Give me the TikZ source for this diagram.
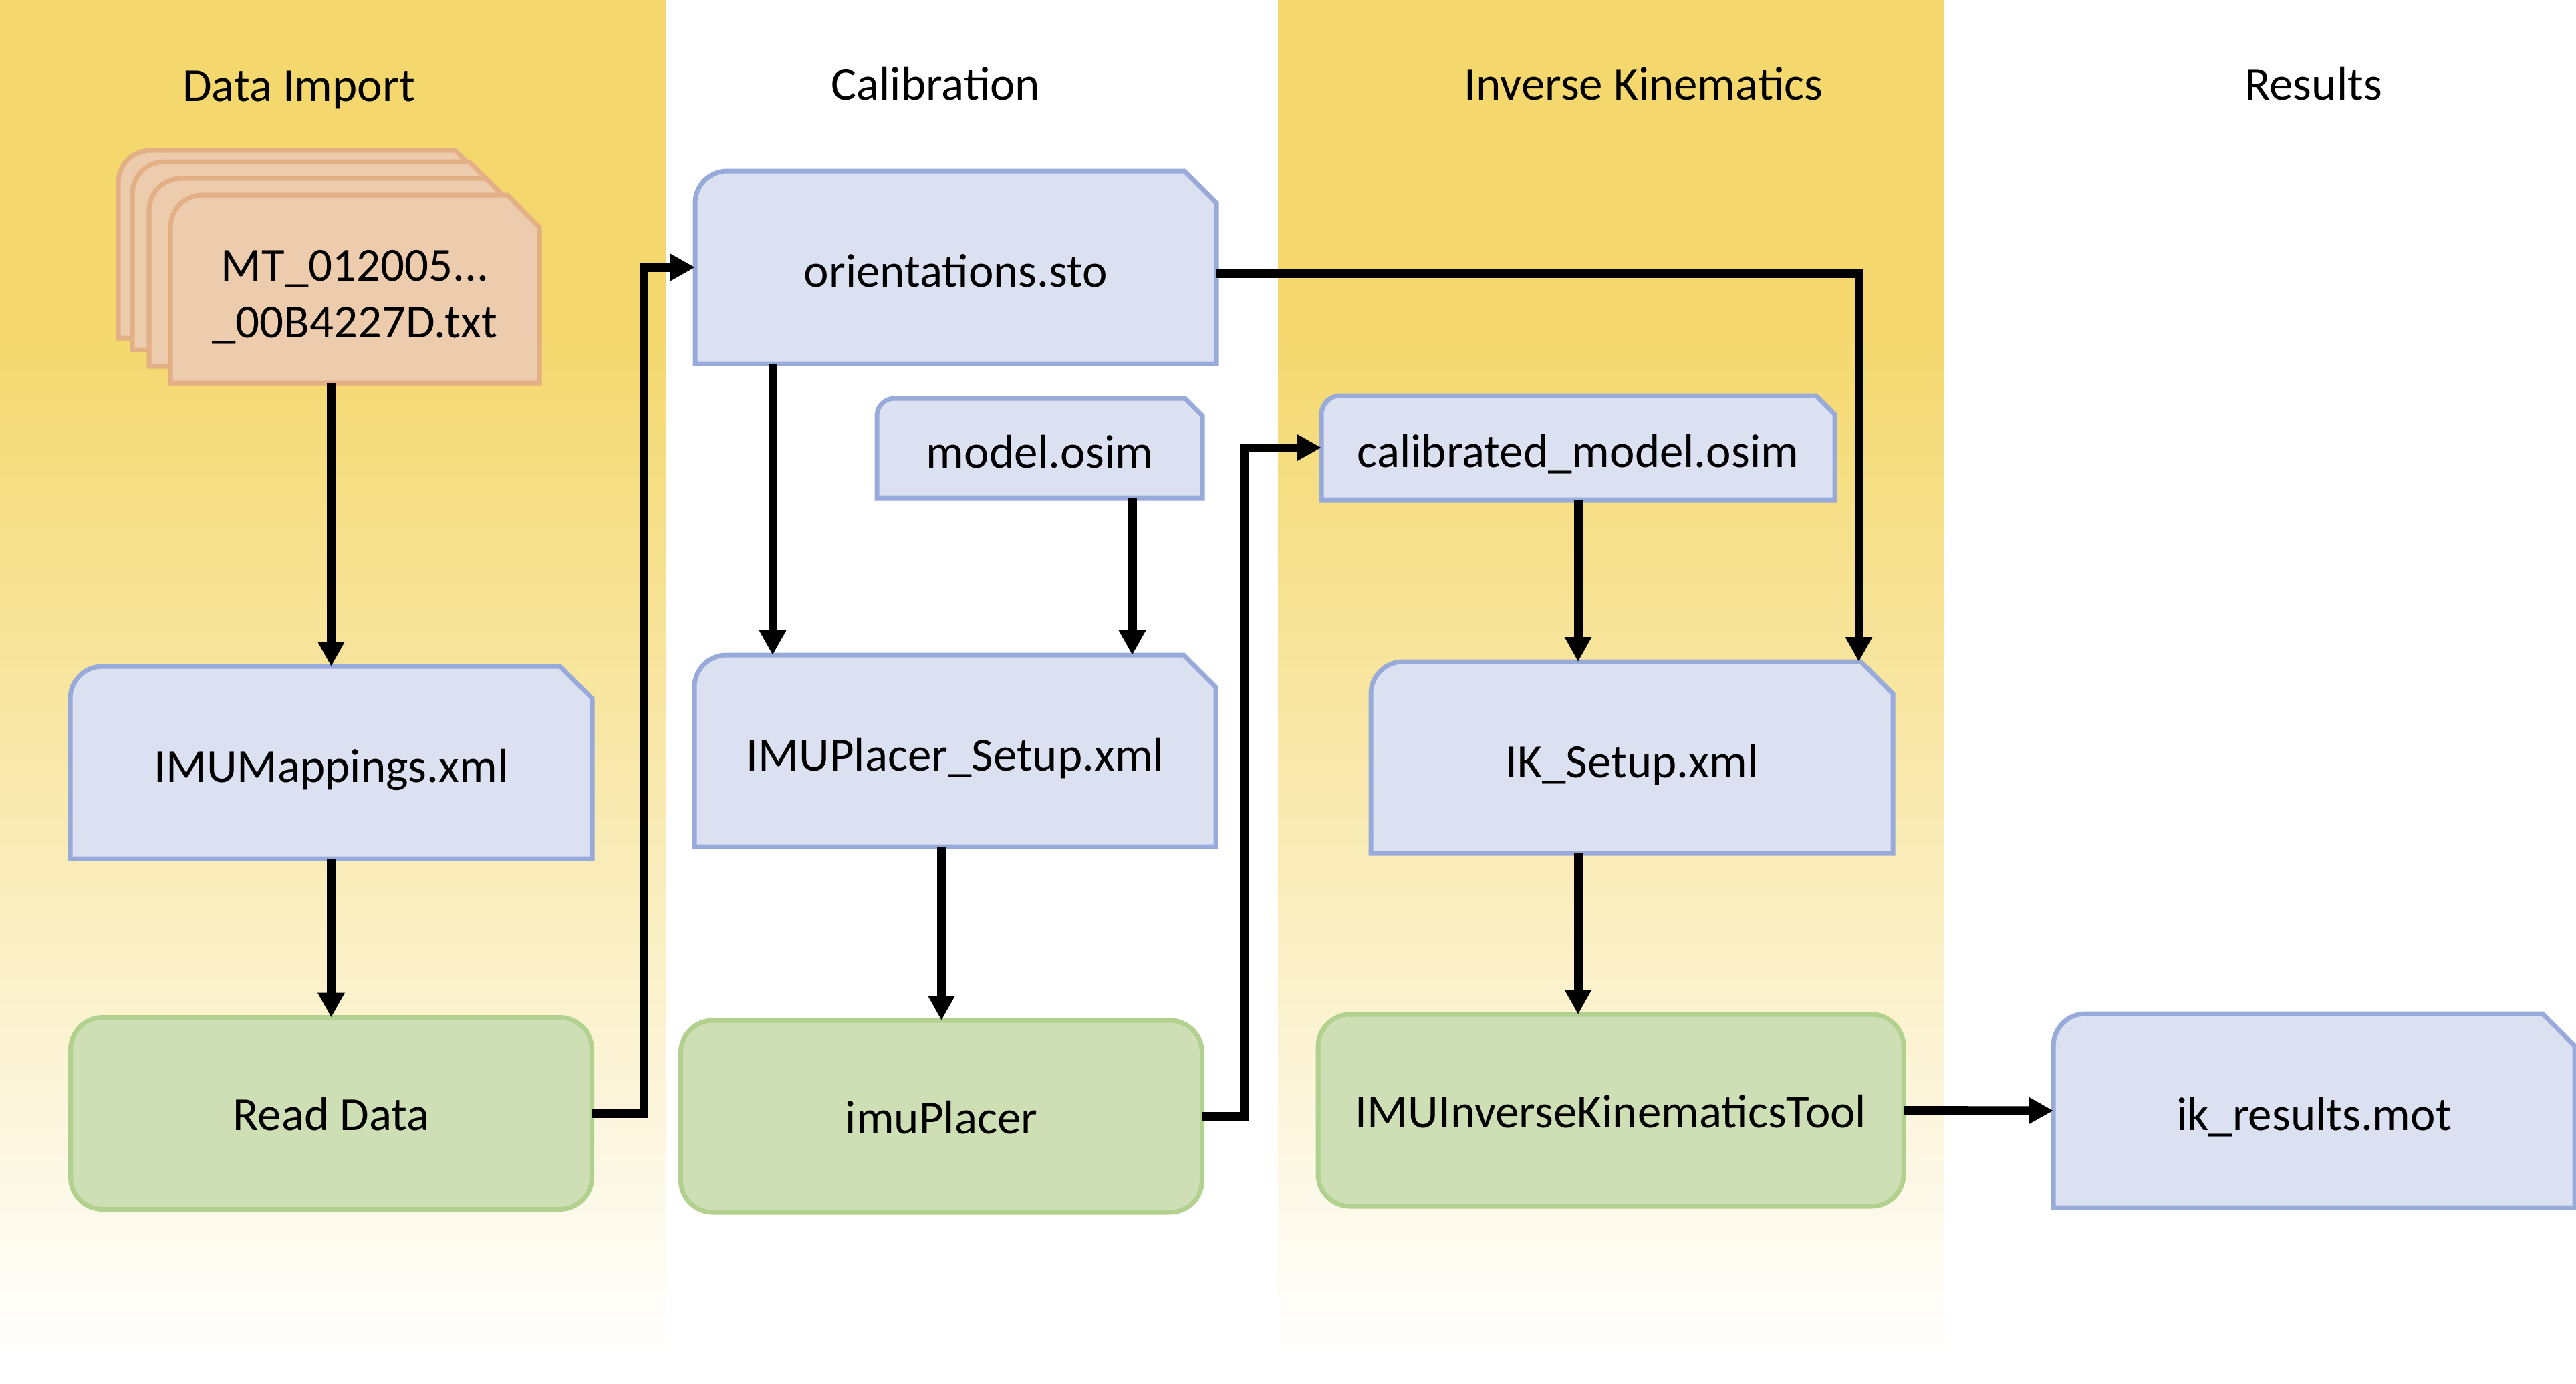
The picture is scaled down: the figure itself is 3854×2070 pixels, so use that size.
\documentclass[tikz,border=0pt]{standalone}
\usepackage{fontspec}
\setmainfont{Carlito}
\usetikzlibrary{arrows.meta,positioning,calc,backgrounds}

\definecolor{laneyellow}{HTML}{F4D86E}
\definecolor{filefill}{HTML}{DCE1F2}
\definecolor{fileline}{HTML}{98AAD9}
\definecolor{toolfill}{HTML}{CEDFB6}
\definecolor{toolline}{HTML}{B2D18F}
\definecolor{sheetfill}{HTML}{EDCBAD}
\definecolor{sheetline}{HTML}{E3B085}

\pgfdeclareverticalshading{laneshade}{100bp}{color(0bp)=(white); color(26bp)=(white); color(63bp)=(laneyellow); color(100bp)=(laneyellow)}

\newcommand{\boxfont}{\fontsize{20.2pt}{24.2pt}\selectfont}
% outline of a file: rounded top left, cut top right
\newcommand{\docoutline}[2]{(#1.west) [rounded corners=#2] -- (#1.north west) -- (#1.north) [sharp corners] -- ([xshift=-#2]#1.north east) -- ([yshift=-#2]#1.north east) -- (#1.south east) -- (#1.south west) -- cycle}

\tikzset{
    filebox/.style={rectangle, inner sep=0pt, outer sep=0pt, text centered, font=\boxfont, text height=16.8pt, text depth=0pt},
    sheet/.style={rectangle, inner sep=0pt, outer sep=0pt, minimum width=55.2mm, minimum height=28.1mm},
    tool/.style={rectangle, draw=toolline, fill=toolfill, rounded corners=4.8mm, line width=0.7mm, inner sep=0pt, outer sep=0pt, minimum width=78mm, minimum height=28.7mm, text centered, font=\boxfont, text height=14.6pt, text depth=0pt},
    lane/.style={font=\boxfont},
    filedraw/.style={draw=fileline, fill=filefill, line width=0.7mm},
    sheetdraw/.style={draw=sheetline, fill=sheetfill, line width=0.7mm},
    line/.style={draw, line width=1.3mm, -{Triangle[length=3.7mm, width=3.8mm]}}
}

\begin{document}
\begin{tikzpicture}[x=0.1mm, y=-0.1mm]
    \useasboundingbox (0,0) rectangle (3854,2070);

    % lane titles
    \node [lane] (importtitle) at (447,134) {Data Import};
    \node [lane] (calibtitle) at (1400,125) {Calibration};
    \node [lane] (iktitle) at (2459,125) {Inverse Kinematics};
    \node [lane] (resulttitle) at (3461,125) {Results};

    % data import
    \node [sheet] (mt3) at (453,365.5) {};
    \node [sheet] (mt2) at (474,382.5) {};
    \node [sheet] (mt1) at (499,407.5) {};
    \node [sheet] (mt) at (531,432.5) {};
    \node [font=\boxfont, align=center, inner sep=0pt] (mtname) at ([yshift=-1.2mm]mt.center) {MT\_012005...\\\_00B4227D.txt};
    \node [filebox, minimum width=78.1mm, minimum height=28.8mm] (maps) at (495.5,1141) {IMUMappings.xml};
    \node [tool] (read) at (495.5,1666) {Read Data};

    % calibration
    \node [filebox, minimum width=78mm, minimum height=28.8mm] (orient) at (1430,400) {orientations.sto};
    \node [filebox, minimum width=48.7mm, minimum height=14.9mm] (model) at (1555.5,670.5) {model.osim};
    \node [filebox, minimum width=78mm, minimum height=28.7mm] (placerset) at (1429,1123.5) {IMUPlacer\_Setup.xml};
    \node [tool] (placer) at (1408.5,1670.5) {imuPlacer};

    % inverse kinematics
    \node [filebox, minimum width=76.8mm, minimum height=15.6mm] (calmodel) at (2361,670) {calibrated\_model.osim};
    \node [filebox, minimum width=78.1mm, minimum height=28.7mm] (iksetup) at (2441.5,1133.5) {IK\_Setup.xml};
    \node [tool, minimum width=87.6mm] (iktool) at (2410,1661.5) {IMUInverseKinematicsTool};

    % results
    \node [filebox, minimum width=78mm, minimum height=29mm] (results) at (3462,1662) {ik\_results.mot};

    \path [line] (maps.north |- mt.south) -- (maps.north);
    \path [line] (maps.south) -- (read.north);
    \path [line] (read.east) -- ++(78,0) |- (orient.west);
    \path [line] ([xshift=-27.4mm]orient.south) -- ([xshift=-27.4mm]orient.south |- placerset.north);
    \path [line] ([xshift=13.85mm]model.south) -- ([xshift=13.85mm]model.south |- placerset.north);
    \path [line] ([yshift=-0.9mm]orient.east) -| ([xshift=-5.1mm]iksetup.north east);
    \path [line] (placer.north |- placerset.south) -- (placer.north);
    \path [line] (placer.east) -- ++(63,0) |- (calmodel.west);
    \path [line] (calmodel.south) -- (calmodel.south |- iksetup.north);
    \path [line] (calmodel.south |- iksetup.south) -- (calmodel.south |- iktool.north);
    \path [line] (iktool.east) -- (results.west);

    \begin{scope}[on background layer]
        \fill [white] (0,0) rectangle (3854,2070);
        \shade [shading=laneshade] (0,0) rectangle (996,2070);
        \shade [shading=laneshade] (1912,0) rectangle (2908,2070);
        \foreach \n in {mt3,mt2,mt1,mt}
            \path [sheetdraw] \docoutline{\n}{4.8mm};
        \foreach \n/\r in {maps/4.8mm,orient/4.8mm,model/2.6mm,placerset/4.8mm,calmodel/2.8mm,iksetup/4.8mm,results/4.8mm}
            \path [filedraw] \docoutline{\n}{\r};
    \end{scope}
\end{tikzpicture}
\end{document}
